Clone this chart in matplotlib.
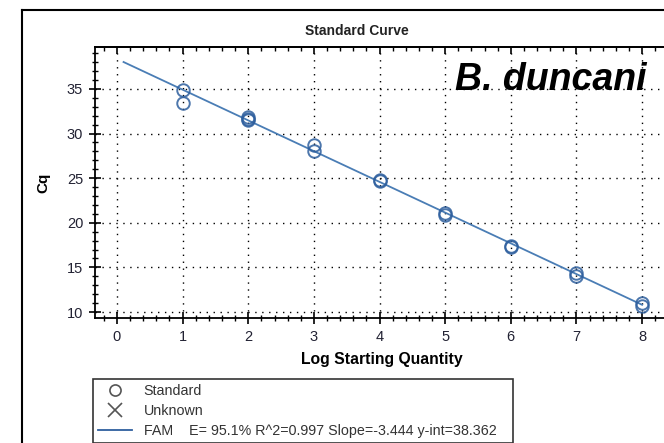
import numpy as np
import matplotlib
matplotlib.use("Agg")
import matplotlib.pyplot as plt
from matplotlib.lines import Line2D
from matplotlib.ticker import MultipleLocator

plt.rcParams['font.family'] = ['Liberation Sans', 'DejaVu Sans']

# standard dilutions (log starting quantity) and measured Cq
log_qty = [1, 1, 2, 2, 2, 3, 3, 4, 4, 5, 5, 6, 6, 7, 7, 8, 8]
cq = [34.9, 33.4, 31.8, 31.6, 31.5, 28.7, 28.0, 24.8, 24.7,
      21.1, 20.9, 17.4, 17.3, 14.4, 14.0, 11.0, 10.7]

slope = -3.444
y_int = 38.362
fit_range = [0.1, 8.0]

fit_label = "FAM    E= 95.1% R^2=0.997 Slope=-3.444 y-int=38.362"

W, H = 664, 443
fig = plt.figure(figsize=(W / 100, H / 100), dpi=100)

# outer panel frame (cropped on right and bottom)
fig.add_artist(Line2D([22 / W, 22 / W], [0, 1 - 10 / H], color='black', lw=1.5, transform=fig.transFigure))
fig.add_artist(Line2D([22 / W, 1], [1 - 10 / H, 1 - 10 / H], color='black', lw=1.5, transform=fig.transFigure))

left, right = 95, 690
top, bottom = 47, 318
ax = fig.add_axes([left / W, 1 - bottom / H, (right - left) / W, (bottom - top) / H])

x_fit = np.array(fit_range)
ax.plot(x_fit, y_int + slope * x_fit, color='#4a7db5', lw=1.3, zorder=2)
ax.plot(log_qty, cq, linestyle='none', marker='o', markersize=9, markerfacecolor='none',
        markeredgecolor='#2e5f9e', markeredgewidth=1.4, alpha=0.85, zorder=3)

ax.set_xlim(-0.335, 8.73)
ax.set_ylim(9.33, 39.7)
ax.xaxis.set_major_locator(MultipleLocator(1))
ax.xaxis.set_minor_locator(MultipleLocator(0.2))
ax.yaxis.set_major_locator(MultipleLocator(5))
ax.yaxis.set_minor_locator(MultipleLocator(1))
ax.tick_params(which='major', direction='inout', length=9, width=1.2, labelsize=10.5,
               labelcolor='#222233', pad=4)
ax.tick_params(which='minor', direction='inout', length=5, width=1.0)
ax.grid(True, which='major', color='black', linestyle=(0, (1, 4)), linewidth=1.0)
for s in ['bottom', 'left', 'top']:
    ax.spines[s].set_linewidth(1.3)
ax.spines['right'].set_visible(False)

# top ticks point inward only
sec = ax.secondary_xaxis('top')
sec.xaxis.set_major_locator(MultipleLocator(1))
sec.xaxis.set_minor_locator(MultipleLocator(0.2))
sec.tick_params(which='major', direction='in', length=5, width=1.2, labeltop=False)
sec.tick_params(which='minor', direction='in', length=3, width=1.0)
sec.spines['top'].set_linewidth(1.3)

ax.set_xlabel("Log Starting Quantity", fontsize=11.3, fontweight='bold', labelpad=6)
ax.xaxis.label.set_x((382 - left) / (right - left))
ax.set_ylabel("Cq", fontsize=11, fontweight='bold', labelpad=12)

fig.text(357 / W, 1 - 31 / H, "Standard Curve", fontsize=10, fontweight='bold',
         ha='center', va='center', color='#222')
fig.text(551 / W, 1 - 80 / H, "B. duncani", fontsize=27, fontweight='bold', style='italic',
         ha='center', va='center')

handles = [
    Line2D([], [], linestyle='none', marker='o', markersize=8, markerfacecolor='none',
           markeredgecolor='#555', markeredgewidth=1.2),
    Line2D([], [], linestyle='none', marker='x', markersize=10, color='#555', markeredgewidth=1.2),
    Line2D([], [], color='#2e5f9e', lw=1.3),
]
leg_h = 70 / H
leg = fig.legend(handles, ["Standard", "Unknown", fit_label], loc='upper left',
                 bbox_to_anchor=(93 / W, 1 - 379 / H - leg_h, 420 / W, leg_h), mode='expand',
                 fontsize=10.3, frameon=True,
                 fancybox=False, edgecolor='black', handlelength=2.4, handletextpad=0.8,
                 labelspacing=0.42, borderpad=0.35, borderaxespad=0)
leg.get_frame().set_linewidth(1.2)
for t in leg.get_texts():
    t.set_color('#333')

fig.savefig("out.png", dpi=100)
